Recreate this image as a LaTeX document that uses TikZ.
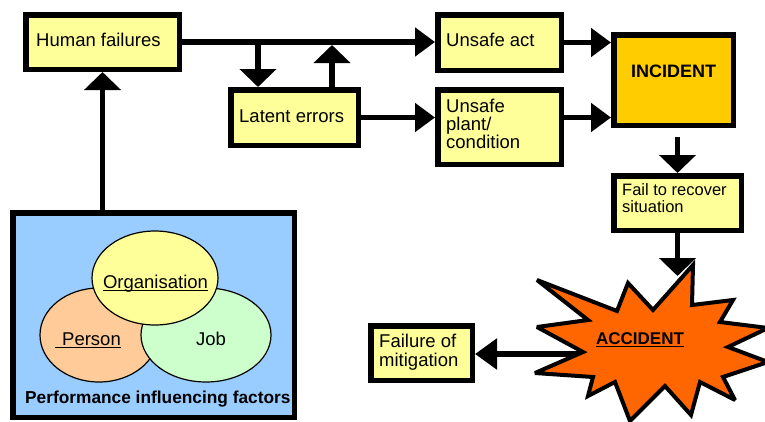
\documentclass[tikz,border=0pt]{standalone}
\usepackage{fontspec}
\setmainfont{Liberation Sans}
\usetikzlibrary{arrows.meta,shapes.geometric}
\definecolor{boxy}{HTML}{FFFF99}
\definecolor{incy}{HTML}{FFCC00}
\definecolor{pifb}{HTML}{99CCFF}
\definecolor{pers}{HTML}{FFCC99}
\definecolor{jobg}{HTML}{CCFFCC}
\definecolor{acco}{HTML}{FF6600}
\newcommand{\ulx}[1]{\vtop{\hbox{\raisebox{0pt}[\height][0pt]{#1}}\kern1.6pt\hrule height1.4pt}}
\begin{document}
\begin{tikzpicture}[x=1pt,y=-1pt,
  box/.style={draw=black, line width=5.5pt, fill=boxy, inner sep=0pt},
  conn/.style={line width=5.5pt},
  htip/.style={-{Triangle[length=20pt,width=28pt]}},
  vtip/.style={-{Triangle[length=18pt,width=36pt]}},
  lbl/.style={anchor=base west, inner sep=0pt, font=\fontsize{18.5}{18}\selectfont},
  blbl/.style={anchor=base, inner sep=0pt, font=\fontsize{18}{18}\selectfont\bfseries},
  venn/.style={ellipse, draw=black, line width=1.2pt, inner sep=0pt}]
\useasboundingbox (0,0) rectangle (765,421);

% boxes
\node[box, minimum width=153.5pt, minimum height=54.5pt] (hf) at (102.5,42) {};
\node[box, minimum width=127.5pt, minimum height=55.5pt] (le) at (294.5,117.5) {};
\node[box, minimum width=123.5pt, minimum height=55.5pt] (ua) at (499.5,42.5) {};
\node[box, minimum width=123.5pt, minimum height=74.5pt] (up) at (499.5,127) {};
\node[box, fill=incy, minimum width=119.5pt, minimum height=90.5pt] (inc) at (673.5,80) {};
\node[box, minimum width=127.5pt, minimum height=54.5pt] (fr) at (677.5,203) {};
\node[box, fill=pifb, minimum width=281.5pt, minimum height=204.5pt] (pif) at (153.5,315) {};
\node[box, minimum width=101.5pt, minimum height=54.5pt] (fm) at (421.5,353) {};

% venn ellipses
\node[venn, fill=pers, minimum width=118pt, minimum height=94pt] (person) at (99,335) {};
\node[venn, fill=jobg, minimum width=130pt, minimum height=94pt] (job) at (206,335) {};
\node[venn, fill=boxy, minimum width=126pt, minimum height=94pt] (org) at (155,278) {};

% junction coordinates
\coordinate (j1) at (258,42);
\coordinate (j2) at (332,45);
\coordinate (accw) at (590,354);
\coordinate (acctop) at (677.5,276);

% connectors
\draw[conn,htip] (hf.east) -- (hf.east -| ua.west);
\draw[conn,vtip] (j1) -- (j1 |- le.north);
\draw[conn,vtip] (j2 |- le.north) -- (j2);
\draw[conn,htip] (le.east) -- (le.east -| up.west);
\draw[conn,htip] (ua.east) -- (ua.east -| inc.west);
\draw[conn,htip] (le.east -| up.east) -- (le.east -| inc.west);
\draw[conn,vtip,shorten <=9pt] (inc.south -| fr.north) -- (fr.north);
\draw[conn,vtip] (pif.north -| hf.south) -- (hf.south);
\draw[conn,-{Triangle[length=22pt,width=30pt]}] (accw) -- (accw -| fm.east);

% accident starburst
\draw[fill=acco, line width=4pt, line join=miter, miter limit=3]
  (537,280) -- (617,311) -- (628,283) -- (653,310) -- (693,265) -- (692,305)
  -- (733,300) -- (720,322) -- (768,328) -- (728,347) -- (768,362) -- (723,377)
  -- (735,400) -- (700,382) -- (691,415) -- (665,386) -- (630,421) -- (615,382)
  -- (588,396) -- (593,377) -- (535,373) -- (583,352) -- (537,327) -- (588,320) -- cycle;
\coordinate (acc) at (640,340);
\draw[conn,vtip] (fr.south) -- (acctop);

% texts
\node[lbl] (thf) at (36,46) {Human failures};
\node[lbl] (tle) at (239,122) {Latent errors};
\node[lbl] (tua) at (446,46) {Unsafe act};
\node[lbl] (tup1) at (446,112) {Unsafe};
\node[lbl] (tup2) at (446,130) {plant/};
\node[lbl] (tup3) at (446,148) {condition};
\node[blbl] (tinc) at (673.5,77) {INCIDENT};
\node[lbl, font=\fontsize{16.5}{17}\selectfont] (tfr1) at (622,195) {Fail to recover};
\node[lbl, font=\fontsize{16.5}{17}\selectfont] (tfr2) at (622,212) {situation};
\node[lbl] (tfm1) at (379,347) {Failure of};
\node[lbl] (tfm2) at (379,366) {mitigation};
\node[blbl, font=\fontsize{17}{17}\selectfont\bfseries] (tacc) at (640,344) {\ulx{ACCIDENT}};
\node[lbl, anchor=base] (torg) at (155.5,288) {\ulx{Organisation}};
\node[lbl] (tper) at (55,345) {\ulx{\hspace{7pt}Person}};
\node[lbl, anchor=base] (tjob) at (211,345) {Job};
\node[lbl, font=\fontsize{17.3}{17}\selectfont\bfseries] (tpif) at (25,403) {Performance influencing factors};
\end{tikzpicture}
\end{document}
